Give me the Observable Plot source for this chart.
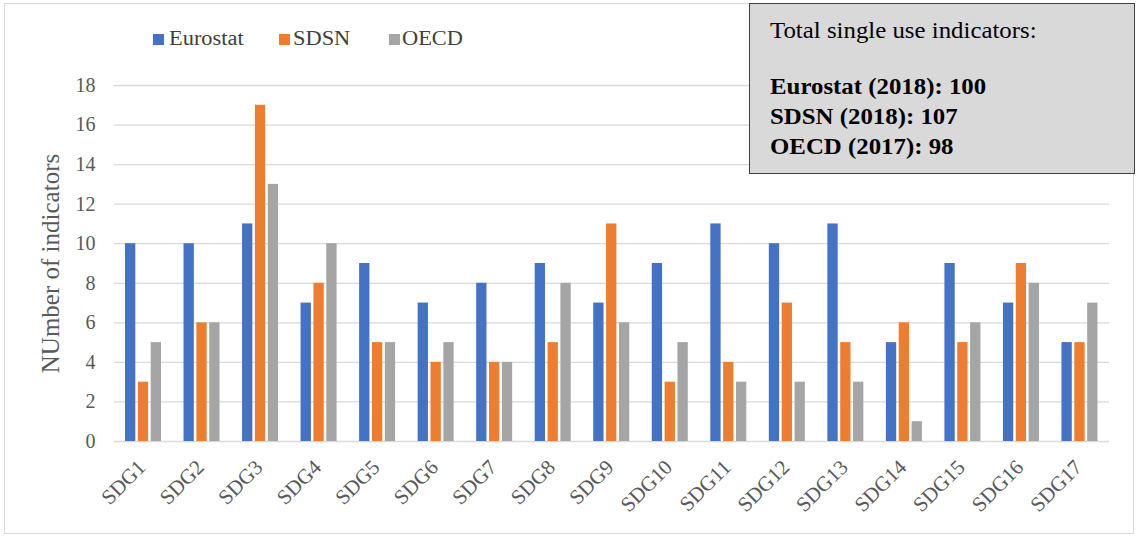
<!DOCTYPE html>
<html>
<head>
<meta charset="utf-8">
<script src="https://cdn.jsdelivr.net/npm/d3@7"></script>
<script src="https://cdn.jsdelivr.net/npm/@observablehq/plot@0.6"></script>
<style>
  body { margin: 0; background: #fff; }
  #wrap { position: relative; width: 1137px; height: 536px; font-family: "Liberation Serif", "Times New Roman", serif; }
  #wrap svg { position: absolute; left: 0; top: 0; }
  #wrap svg text { font-family: "Liberation Serif", "Times New Roman", serif !important; }
  .outer { position: absolute; left: 4px; top: 3px; width: 1130px; height: 531px; border: 1px solid #d9d9d9; box-sizing: border-box; }
  .sq { position: absolute; width: 11px; height: 11px; }
  .lg { position: absolute; font-size: 20px; line-height: 20px; color: #404040; white-space: nowrap; transform-origin: 0 0; transform: scaleX(1.12); }
  .box { position: absolute; left: 749px; top: 3px; width: 386px; height: 171px; background: #d9d9d9; border: 1px solid #404040; box-sizing: border-box; }
  .bt { position: absolute; left: 770px; font-size: 23px; line-height: 23px; color: #000; white-space: nowrap; transform-origin: 0 0; transform: scaleX(1.08); }
  .bt.b { font-weight: bold; }
</style>
</head>
<body>
<div id="wrap"></div>
<script>
const sdgs = ["SDG1","SDG2","SDG3","SDG4","SDG5","SDG6","SDG7","SDG8","SDG9","SDG10","SDG11","SDG12","SDG13","SDG14","SDG15","SDG16","SDG17"];
const seriesNames = ["Eurostat", "SDSN", "OECD"];
const eurostat = [10,10,11,7,9,7,8,9,7,9,11,10,11,5,9,7,5];
const sdsn     = [3,6,17,8,5,4,4,5,11,3,4,7,5,6,5,9,5];
const oecd     = [5,6,13,10,5,5,4,8,6,5,3,3,3,1,6,8,7];
const yTicks = [0,2,4,6,8,10,12,14,16,18];
const colors = ["#4472C4", "#ED7D31", "#A5A5A5"];
const totalsTitle = "Total single use indicators:";
const totals = ["Eurostat (2018): 100", "SDSN (2018): 107", "OECD (2017): 98"];
const yLabel = "NUmber of indicators";

const seriesValues = [eurostat, sdsn, oecd];
const data = [];
seriesNames.forEach((s, i) => sdgs.forEach((g, j) => data.push({sdg: g, series: s, value: seriesValues[i][j]})));

const serif = "'Liberation Serif', serif";
// band width = (1137-114-28)/17
const bw = (1137 - 114 - 28) / sdgs.length;
const barW = 10.3, pitch = 12.85, off = 11;

const barMarks = seriesNames.map((s, i) => {
  const l = off + i * pitch;
  return Plot.barY(data.filter(d => d.series === s), {
    x: "sdg", y: "value", fill: colors[i],
    insetLeft: l, insetRight: bw - l - barW
  });
});

const chart = Plot.plot({
  width: 1137,
  height: 536,
  marginLeft: 114,
  marginRight: 28,
  marginTop: 85,
  marginBottom: 95,
  style: {background: "transparent"},
  x: {domain: sdgs, padding: 0, round: false, axis: null},
  y: {domain: [0, 18], axis: null},
  marks: [
    Plot.ruleY(yTicks, {stroke: "#d9d9d9", strokeWidth: 1.3}),
    ...barMarks,
    Plot.text(yTicks, {y: d => d, text: d => String(d), frameAnchor: "left", dx: -19, textAnchor: "end", fontSize: 20, fontFamily: serif, fill: "#595959"}),
    Plot.text(sdgs, {x: d => d, text: d => d, frameAnchor: "bottom", dx: 3, dy: 27, rotate: -45, textAnchor: "end", fontSize: 21, fontFamily: serif, fill: "#595959"}),
    Plot.text([yLabel], {text: d => d, frameAnchor: "left", dx: -64, rotate: -90, textAnchor: "middle", fontSize: 25, fontFamily: serif, fill: "#595959"})
  ]
});

d3.select(chart).selectAll("text").style("font-family", serif);

const wrap = document.getElementById("wrap");
wrap.appendChild(chart);

function add(html) { wrap.insertAdjacentHTML("beforeend", html); }
add(`<div class="outer"></div>`);

// legend
const legendPos = [{sq: 153, tx: 169}, {sq: 279, tx: 293}, {sq: 389, tx: 402}];
seriesNames.forEach((s, i) => {
  add(`<div class="sq" style="left:${legendPos[i].sq}px;top:34px;background:${colors[i]}"></div>`);
  add(`<div class="lg" style="left:${legendPos[i].tx}px;top:28px">${s}</div>`);
});

// totals box
add(`<div class="box"></div>`);
add(`<div class="bt" style="top:19px">${totalsTitle}</div>`);
const tops = [75, 105, 135];
totals.forEach((t, i) => add(`<div class="bt b" style="top:${tops[i]}px">${t}</div>`));
</script>
</body>
</html>
